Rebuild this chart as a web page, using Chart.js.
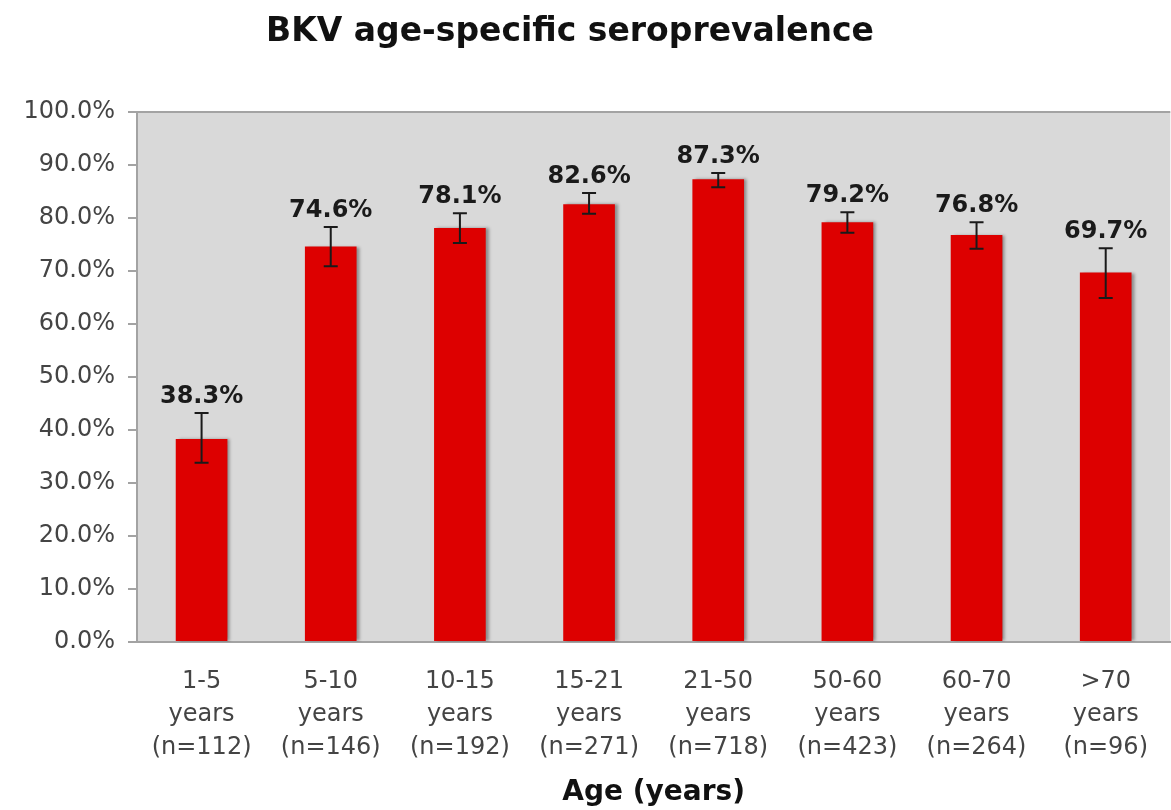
<!DOCTYPE html>
<html>
<head>
<meta charset="utf-8">
<title>BKV age-specific seroprevalence</title>
<script src="https://cdn.jsdelivr.net/npm/chart.js@4.4.1/dist/chart.umd.min.js"></script>
<style>
  html, body { margin: 0; padding: 0; background: #fff; }
  canvas { display: block; }
</style>
</head>
<body>
<canvas id="seroChart" width="1171" height="810"></canvas>
<script>
// Age groups (x categories), each label on three lines
const ageGroups = [
  ['1-5', 'years', '(n=112)'],
  ['5-10', 'years', '(n=146)'],
  ['10-15', 'years', '(n=192)'],
  ['15-21', 'years', '(n=271)'],
  ['21-50', 'years', '(n=718)'],
  ['50-60', 'years', '(n=423)'],
  ['60-70', 'years', '(n=264)'],
  ['>70', 'years', '(n=96)']
];

// Seroprevalence in percent
const prevalence = [38.3, 74.6, 78.1, 82.6, 87.3, 79.2, 76.8, 69.7];

// Error bar ends
const errLow  = [33.8, 70.9, 75.3, 80.8, 85.8, 77.2, 74.2, 64.9];
const errHigh = [43.2, 78.3, 80.9, 84.7, 88.5, 81.1, 79.2, 74.3];

// Y axis ticks
const yTicks = [0, 10, 20, 30, 40, 50, 60, 70, 80, 90, 100];

const FONT = "'DejaVu Sans', Verdana, sans-serif";

// grey plot background + top border
const plotBackground = {
  id: 'plotBackground',
  beforeDraw(chart) {
    const { ctx, chartArea } = chart;
    ctx.save();
    ctx.fillStyle = '#d9d9d9';
    ctx.fillRect(chartArea.left, chartArea.top, chartArea.right - chartArea.left, chartArea.bottom - chartArea.top);
    ctx.strokeStyle = '#a3a3a3';
    ctx.lineWidth = 2;
    ctx.beginPath();
    ctx.moveTo(chartArea.left, chartArea.top);
    ctx.lineTo(chartArea.right, chartArea.top);
    ctx.stroke();
    ctx.restore();
  }
};

// soft shadow on the right of bars
const barShadow = {
  id: 'barShadow',
  beforeDatasetsDraw(chart) {
    const ctx = chart.ctx;
    ctx.save();
    ctx.shadowColor = 'rgba(0, 0, 0, 0.35)';
    ctx.shadowOffsetX = 3;
    ctx.shadowOffsetY = 0;
    ctx.shadowBlur = 3;
  },
  afterDatasetsDraw(chart) {
    chart.ctx.restore();
  }
};

// error bars and value labels
const errorBars = {
  id: 'errorBars',
  afterDatasetsDraw(chart) {
    const { ctx } = chart;
    const yScale = chart.scales.y;
    const meta = chart.getDatasetMeta(0);
    ctx.save();
    meta.data.forEach((bar, i) => {
      const x = bar.x;
      const yHi = yScale.getPixelForValue(errHigh[i]);
      const yLo = yScale.getPixelForValue(errLow[i]);
      ctx.strokeStyle = '#1a1a1a';
      ctx.lineWidth = 2;
      ctx.beginPath();
      ctx.moveTo(x, yHi);
      ctx.lineTo(x, yLo);
      ctx.moveTo(x - 7, yHi);
      ctx.lineTo(x + 7, yHi);
      ctx.moveTo(x - 7, yLo);
      ctx.lineTo(x + 7, yLo);
      ctx.stroke();

      ctx.fillStyle = '#1a1a1a';
      ctx.font = 'bold 24px ' + FONT;
      ctx.textAlign = 'center';
      ctx.textBaseline = 'alphabetic';
      ctx.fillText(prevalence[i].toFixed(1) + '%', x, yHi - 10);
    });
    ctx.restore();
  }
};

// chart title, a little left of the canvas centre as in the original
const chartTitle = {
  id: 'chartTitle',
  afterDraw(chart) {
    const ctx = chart.ctx;
    ctx.save();
    ctx.fillStyle = '#111';
    ctx.font = 'bold 33px ' + FONT;
    ctx.textAlign = 'center';
    ctx.textBaseline = 'middle';
    ctx.fillText('BKV age-specific seroprevalence', 570, 32);
    ctx.restore();
  }
};

const ctx = document.getElementById('seroChart').getContext('2d');
const seroChart = new Chart(ctx, {
  type: 'bar',
  data: {
    labels: ageGroups,
    datasets: [{
      label: 'Seroprevalence',
      data: prevalence,
      backgroundColor: '#dd0000',
      borderWidth: 0,
      barPercentage: 0.4,
      categoryPercentage: 1.0
    }]
  },
  options: {
    responsive: false,
    animation: false,
    layout: {
      padding: { top: 112, right: 0, bottom: 0, left: 0 }
    },
    plugins: {
      legend: { display: false },
      title: { display: false },
      tooltip: { enabled: false }
    },
    scales: {
      x: {
        grid: { display: false, drawTicks: false },
        border: { display: true, color: '#a3a3a3', width: 2 },
        ticks: {
          color: '#444',
          padding: 23,
          maxRotation: 0,
          autoSkip: false,
          font: { family: FONT, size: 24, lineHeight: 1.38 }
        },
        title: {
          display: true,
          text: 'Age (years)',
          color: '#111',
          padding: { top: 0, bottom: 0 },
          font: { family: FONT, size: 28, weight: 'bold', lineHeight: 1.2 }
        },
        afterFit(scale) { scale.height = 168; }
      },
      y: {
        min: 0,
        max: 100,
        afterBuildTicks(scale) {
          scale.ticks = yTicks.map(v => ({ value: v }));
        },
        grid: {
          display: true,
          drawOnChartArea: false,
          drawTicks: true,
          tickLength: 9,
          color: '#a3a3a3',
          lineWidth: 2
        },
        border: { display: true, color: '#a3a3a3', width: 2 },
        ticks: {
          color: '#444',
          padding: 13,
          font: { family: FONT, size: 24 },
          callback: v => v.toFixed(1) + '%'
        },
        afterFit(scale) { scale.width = 137; }
      }
    }
  },
  plugins: [plotBackground, barShadow, errorBars, chartTitle]
});
</script>
</body>
</html>
